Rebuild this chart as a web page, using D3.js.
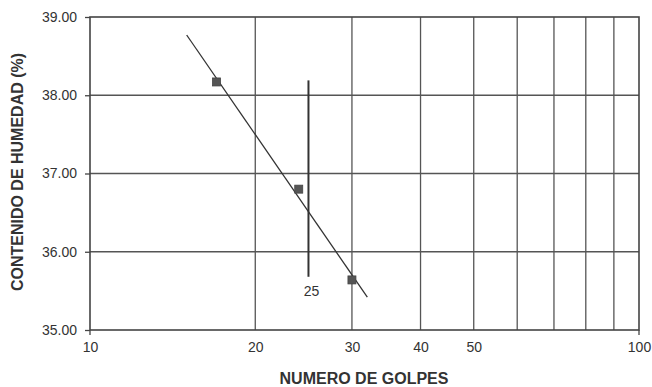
<!DOCTYPE html>
<html><head><meta charset="utf-8">
<script src="https://cdn.jsdelivr.net/npm/d3@7"></script>
<style>body{margin:0;background:#fff}svg{display:block}text{font-family:"Liberation Sans",Arial,sans-serif;fill:#333}</style>
</head><body><svg id="c" width="652" height="387"></svg>
<script>
const golpes = [17, 24, 30];
const humedad = [38.17, 36.80, 35.64];
const trendX = [15, 32];
const trendY = [38.77, 35.42];
const refX = [25, 25];
const refY = [38.19, 35.68];
const refLabel = "25";
const xGrid = [20, 30, 40, 50, 60, 70, 80, 90];
const xTickLabels = [10, 20, 30, 40, 50, 100];
const yTicks = [35, 36, 37, 38, 39];

const svg = d3.select("#c");
const m = {l: 90, r: 639, t: 17, b: 330};
const x = d3.scaleLog().domain([10, 100]).range([m.l, m.r]);
const y = d3.scaleLinear().domain([35, 39]).range([m.b, m.t]);
const ink = "#444";

// grid
svg.append("g").selectAll("line").data(xGrid).join("line")
  .attr("x1", d => x(d)).attr("x2", d => x(d)).attr("y1", m.t).attr("y2", m.b)
  .attr("stroke", "#555").attr("stroke-width", 1.3);
svg.append("g").selectAll("line").data(yTicks.slice(1, -1)).join("line")
  .attr("x1", m.l).attr("x2", m.r).attr("y1", d => y(d)).attr("y2", d => y(d))
  .attr("stroke", "#555").attr("stroke-width", 1.3);

// frame
svg.append("rect").attr("x", m.l).attr("y", m.t).attr("width", m.r - m.l).attr("height", m.b - m.t)
  .attr("fill", "none").attr("stroke", ink).attr("stroke-width", 1.6);

// y axis ticks + labels
const yAxis = d3.axisLeft(y).tickValues(yTicks).tickFormat(d3.format(".2f")).tickSize(5).tickPadding(8);
const gy = svg.append("g").attr("transform", `translate(${m.l},0)`).call(yAxis);
gy.select(".domain").remove();
gy.selectAll("line").attr("stroke", ink).attr("stroke-width", 1.3);
gy.selectAll("text").attr("font-size", 14).attr("fill", "#333").attr("font-family", "Liberation Sans, Arial, sans-serif");

// x axis ticks + labels
const xAxis = d3.axisBottom(x).tickValues(xTickLabels).tickFormat(d => d).tickSize(0).tickPadding(12);
const gx = svg.append("g").attr("transform", `translate(0,${m.b})`).call(xAxis);
gx.select(".domain").remove();
gx.selectAll("text").attr("font-size", 14).attr("fill", "#333").attr("font-family", "Liberation Sans, Arial, sans-serif");
svg.append("g").selectAll("line").data([10, 100]).join("line")
  .attr("x1", d => x(d)).attr("x2", d => x(d)).attr("y1", m.b).attr("y2", m.b + 5)
  .attr("stroke", ink).attr("stroke-width", 1.3);

// trend line
svg.append("line").attr("x1", x(trendX[0])).attr("y1", y(trendY[0]))
  .attr("x2", x(trendX[1])).attr("y2", y(trendY[1]))
  .attr("stroke", "#333").attr("stroke-width", 1.3);

// reference vertical line at 25
svg.append("line").attr("x1", x(refX[0])).attr("y1", y(refY[0]))
  .attr("x2", x(refX[1])).attr("y2", y(refY[1]))
  .attr("stroke", "#333").attr("stroke-width", 2);
svg.append("text").attr("x", x(refX[0]) + 3).attr("y", y(refY[1]) + 19)
  .attr("text-anchor", "middle").attr("font-size", 14).text(refLabel);

// points
const s = 8;
svg.append("g").selectAll("rect").data(golpes.map((g, i) => [g, humedad[i]])).join("rect")
  .attr("x", d => x(d[0]) - s / 2).attr("y", d => y(d[1]) - s / 2)
  .attr("width", s).attr("height", s).attr("fill", "#555").attr("stroke", "#444").attr("stroke-width", 0.8);

// titles
svg.append("text").attr("x", 364).attr("y", 384).attr("text-anchor", "middle")
  .attr("font-size", 16).attr("font-weight", "bold").text("NUMERO DE GOLPES");
svg.append("text").attr("transform", "translate(23,172) rotate(-90)").attr("text-anchor", "middle")
  .attr("font-size", 16).attr("font-weight", "bold").text("CONTENIDO DE HUMEDAD (%)");
</script></body></html>
